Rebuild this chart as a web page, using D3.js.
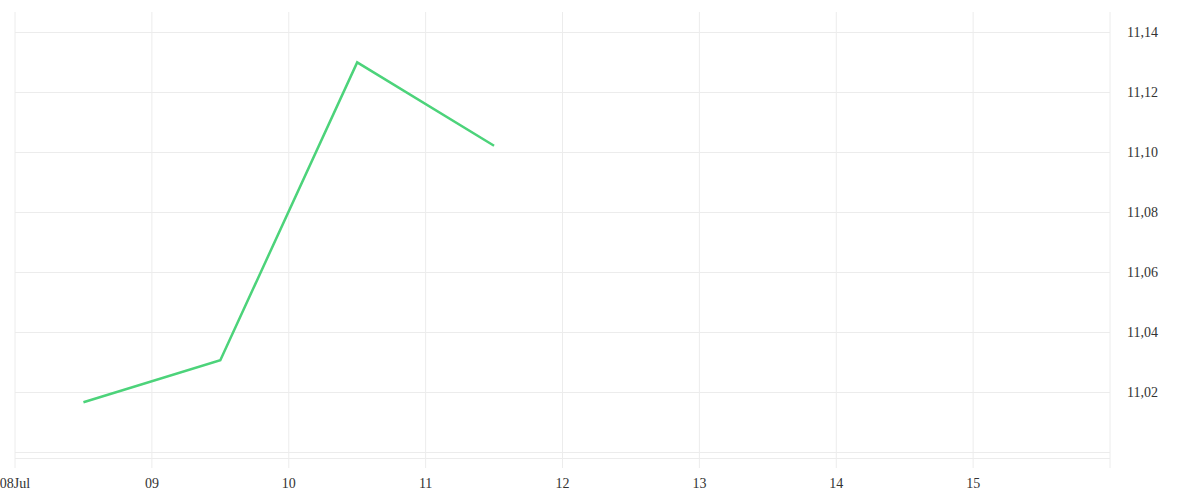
<!DOCTYPE html>
<html>
<head>
<meta charset="utf-8">
<script src="https://cdn.jsdelivr.net/npm/d3@7"></script>
<style>
  body { margin: 0; background: #fff; }
  text { font-family: "Liberation Serif", serif; font-size: 14px; fill: #333; }
</style>
</head>
<body>
<div id="chart"></div>
<script>
// data
const dates = ["2024-07-08T12:00", "2024-07-09T12:00", "2024-07-10T12:00", "2024-07-11T12:00"];
const values = [11.0166, 11.0306, 11.1299, 11.1021];
const yTicks = [11.00, 11.02, 11.04, 11.06, 11.08, 11.10, 11.12, 11.14];
const xStart = "2024-07-08T00:00";
const xEnd = "2024-07-16T00:00";

const width = 1200, height = 500;
const margin = { top: 12, right: 90, bottom: 42, left: 15 };
const w = width - margin.left - margin.right;
const h = height - margin.top - margin.bottom;

const parse = d3.timeParse("%Y-%m-%dT%H:%M");
const data = dates.map((d, i) => ({ date: parse(d), value: values[i] }));

const svg = d3.select("#chart").append("svg")
  .attr("width", width).attr("height", height)
  .append("g")
  .attr("transform", `translate(${margin.left},${margin.top})`);

const x = d3.scaleTime().domain([parse(xStart), parse(xEnd)]).range([0, w]);
const y = d3.scaleLinear().domain([10.998, 11.1467]).range([h, 0]);

const days = d3.timeDay.range(parse(xStart), parse(xEnd));
days.push(parse(xEnd));

// vertical grid + ticks
svg.append("g").selectAll("line").data(days).join("line")
  .attr("x1", d => x(d)).attr("x2", d => x(d))
  .attr("y1", 0).attr("y2", h + 10)
  .attr("stroke", "#ececec").attr("stroke-width", 1);

// horizontal grid
svg.append("g").selectAll("line").data(yTicks.concat([y.domain()[0]])).join("line")
  .attr("x1", 0).attr("x2", w)
  .attr("y1", d => Math.round(y(d)) + 0.5).attr("y2", d => Math.round(y(d)) + 0.5)
  .attr("stroke", "#ececec").attr("stroke-width", 1);

// x labels
const fmt = d => d.getDate() === 8 ? d3.timeFormat("%dJul")(d) : d3.timeFormat("%d")(d);
svg.append("g").selectAll("text").data(days.slice(0, -1)).join("text")
  .attr("x", d => x(d)).attr("y", h + 30)
  .attr("text-anchor", "middle")
  .text(fmt);

// y labels
const yFmt = d => d3.format(".2f")(d).replace(".", ",");
svg.append("g").selectAll("text").data(yTicks.filter(d => d > 11.01)).join("text")
  .attr("x", w + 17).attr("y", d => y(d) + 5)
  .text(yFmt);

// line
const line = d3.line().x(d => x(d.date)).y(d => y(d.value));
svg.append("path").datum(data)
  .attr("d", line)
  .attr("fill", "none")
  .attr("stroke", "#4cd37a")
  .attr("stroke-width", 2.5);
</script>
</body>
</html>
